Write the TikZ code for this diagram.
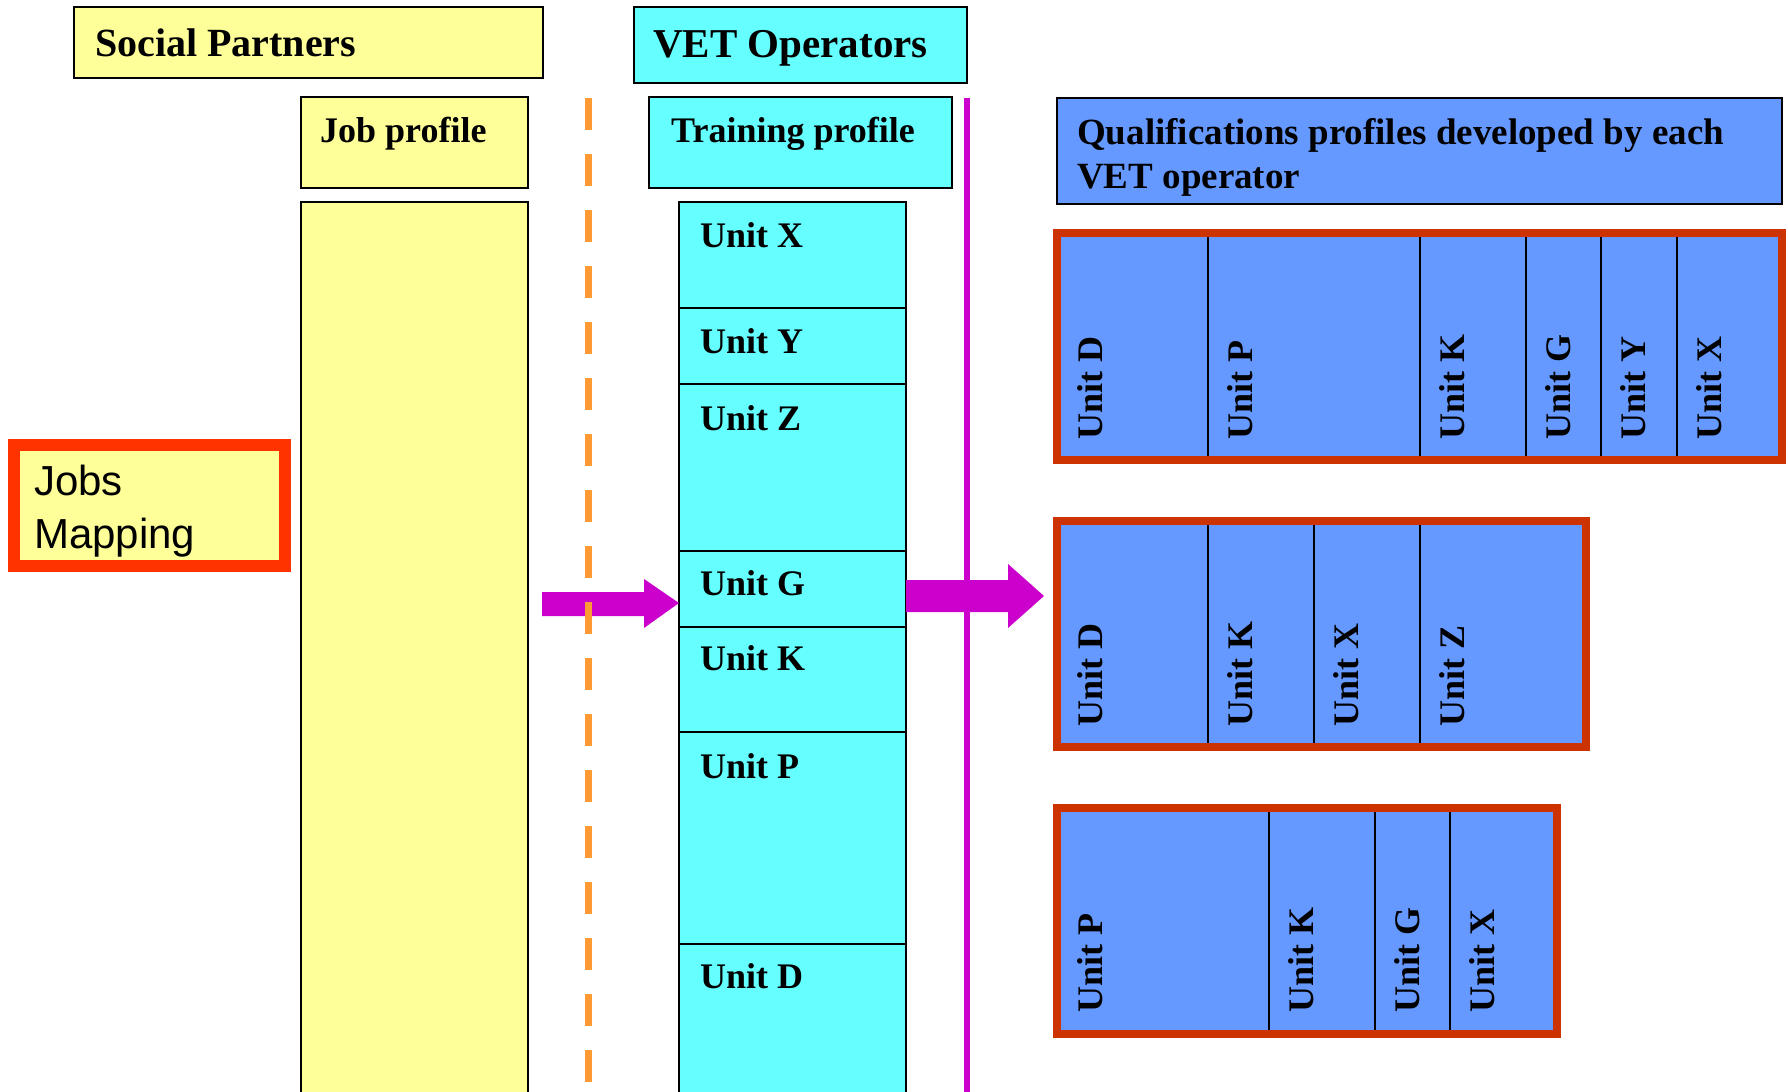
\documentclass[tikz,border=0pt]{standalone}
\usepackage{fontspec}
\setmainfont{Liberation Serif}
\newfontfamily\jmfont{Liberation Sans}
\usetikzlibrary{calc}
\definecolor{ylw}{RGB}{255,255,153}
\definecolor{cyn}{RGB}{102,255,255}
\definecolor{blu}{RGB}{102,153,255}
\definecolor{redb}{RGB}{204,51,0}
\definecolor{jmred}{RGB}{255,51,0}
\definecolor{mag}{RGB}{204,0,204}
\definecolor{orng}{RGB}{255,153,51}
\begin{document}
\begin{tikzpicture}[x=1pt,y=-1pt,
  box/.style={draw=black,line width=2pt,inner sep=0pt,outer sep=0pt,anchor=north west},
  hdr/.style={font=\bfseries\fontsize{40}{48}\selectfont,inner sep=0pt,anchor=base west},
  lbl/.style={font=\bfseries\fontsize{36}{43}\selectfont,inner sep=0pt,anchor=base west},
  vlbl/.style={lbl,rotate=90},
  qbox/.style={draw=redb,line width=8pt,fill=blu,inner sep=0pt,outer sep=0pt,anchor=north west},
  divl/.style={draw=black,line width=2pt},
  jm/.style={font=\jmfont\fontsize{42}{53}\selectfont,inner sep=0pt,anchor=base west},
  blockarrow/.style={fill=mag,draw=none}
]
\useasboundingbox (0,0) rectangle (1788,1092);
\fill[white] (0,0) rectangle (1788,1092);

% headers
\node[box,fill=ylw,minimum width=469pt,minimum height=71pt] (sp) at (74,7) {};
\node[hdr] (sptxt) at (95,56) {Social Partners};
\node[box,fill=cyn,minimum width=333pt,minimum height=76pt] (vet) at (634,7) {};
\node[hdr,font=\bfseries\fontsize{41}{48}\selectfont] (vettxt) at (653,57) {VET Operators};

\node[box,fill=ylw,minimum width=227pt,minimum height=91pt] (jp) at (301,97) {};
\node[lbl] (jptxt) at (320,142) {Job profile};
\node[box,fill=cyn,minimum width=303pt,minimum height=91pt] (tp) at (649,97) {};
\node[lbl] (tptxt) at (671,142) {Training profile};

\node[box,fill=blu,minimum width=725pt,minimum height=106pt] (qp) at (1057,98) {};
\node[lbl,font=\bfseries\fontsize{37}{44}\selectfont] (qptxt1) at (1077,144) {Qualifications profiles developed by each};
\node[lbl,font=\bfseries\fontsize{37}{44}\selectfont] (qptxt2) at (1077,188) {VET operator};

% yellow column
\node[box,fill=ylw,minimum width=227pt,minimum height=900pt] (ycol) at (301,202) {};

% unit column
\node[box,fill=cyn,minimum width=227pt,minimum height=106pt] (uX) at (679,202) {};
\node[box,fill=cyn,minimum width=227pt,minimum height=76pt] (uY) at (679,308) {};
\node[box,fill=cyn,minimum width=227pt,minimum height=167pt] (uZ) at (679,384) {};
\node[box,fill=cyn,minimum width=227pt,minimum height=76pt] (uG) at (679,551) {};
\node[box,fill=cyn,minimum width=227pt,minimum height=105pt] (uK) at (679,627) {};
\node[box,fill=cyn,minimum width=227pt,minimum height=212pt] (uP) at (679,732) {};
\node[box,fill=cyn,minimum width=227pt,minimum height=160pt] (uD) at (679,944) {};
\node[lbl] (tX) at ($(uX.north west)+(21,45)$) {Unit X};
\node[lbl] (tY) at ($(uY.north west)+(21,45)$) {Unit Y};
\node[lbl] (tZ) at ($(uZ.north west)+(21,46)$) {Unit Z};
\node[lbl] (tG) at ($(uG.north west)+(21,44)$) {Unit G};
\node[lbl] (tK) at ($(uK.north west)+(21,43)$) {Unit K};
\node[lbl] (tP) at ($(uP.north west)+(21,46)$) {Unit P};
\node[lbl] (tD) at ($(uD.north west)+(21,44)$) {Unit D};

% Jobs Mapping
\node[box,draw=jmred,line width=12pt,fill=ylw,minimum width=271pt,minimum height=121pt] (jmbox) at (14,445) {};
\node[jm] (jm1) at (34,495) {Jobs};
\node[jm] (jm2) at (34,548) {Mapping};

% left block arrow (into Unit G)
\coordinate (latip) at ($(uG.south west)+(0,-24)$);
\fill[blockarrow] (542,592) -- (644,592) -- (644,579) -- (latip) -- (644,628) -- (644,616) -- (542,616) -- cycle;

% right block arrow (out of Unit G)
\coordinate (rabase) at ($(uG.east)+(0,7)$);
\fill[blockarrow] ($(rabase)+(0,-16)$) -- (1008,580) -- (1008,564) -- (1044,596) -- (1008,628) -- (1008,612) -- ($(rabase)+(0,16)$) -- cycle;

% separators
\coordinate (otop) at (588,98);
\coordinate (obot) at (588,1092);
\draw[orng,line width=7pt,dash pattern=on 32pt off 24pt] (otop) -- (obot);
\coordinate (mtop) at (967,98);
\coordinate (mbot) at (967,1092);
\draw[mag,line width=6pt] (mtop) -- (mbot);

% qualification box 1
\node[qbox,minimum width=725pt,minimum height=227pt] (q1) at (1057,233) {};
\foreach \x in {1208,1420,1526,1601,1677}{\draw[divl] (\x,237) -- (\x,456);}
\node[vlbl] (q1a) at (1102,440) {Unit D};
\node[vlbl] (q1b) at (1252,440) {Unit P};
\node[vlbl] (q1c) at (1464,440) {Unit K};
\node[vlbl] (q1d) at (1570,440) {Unit G};
\node[vlbl] (q1e) at (1645,440) {Unit Y};
\node[vlbl] (q1f) at (1721,440) {Unit X};

% qualification box 2
\node[qbox,minimum width=529pt,minimum height=226pt] (q2) at (1057,521) {};
\foreach \x in {1208,1314,1420}{\draw[divl] (\x,525) -- (\x,743);}
\node[vlbl] (q2a) at (1102,727) {Unit D};
\node[vlbl] (q2b) at (1252,727) {Unit K};
\node[vlbl] (q2c) at (1358,727) {Unit X};
\node[vlbl] (q2d) at (1464,727) {Unit Z};

% qualification box 3
\node[qbox,minimum width=500pt,minimum height=226pt] (q3) at (1057,808) {};
\foreach \x in {1269,1375,1450}{\draw[divl] (\x,812) -- (\x,1030);}
\node[vlbl] (q3a) at (1102,1013) {Unit P};
\node[vlbl] (q3b) at (1313,1013) {Unit K};
\node[vlbl] (q3c) at (1419,1013) {Unit G};
\node[vlbl] (q3d) at (1494,1013) {Unit X};
\end{tikzpicture}
\end{document}
